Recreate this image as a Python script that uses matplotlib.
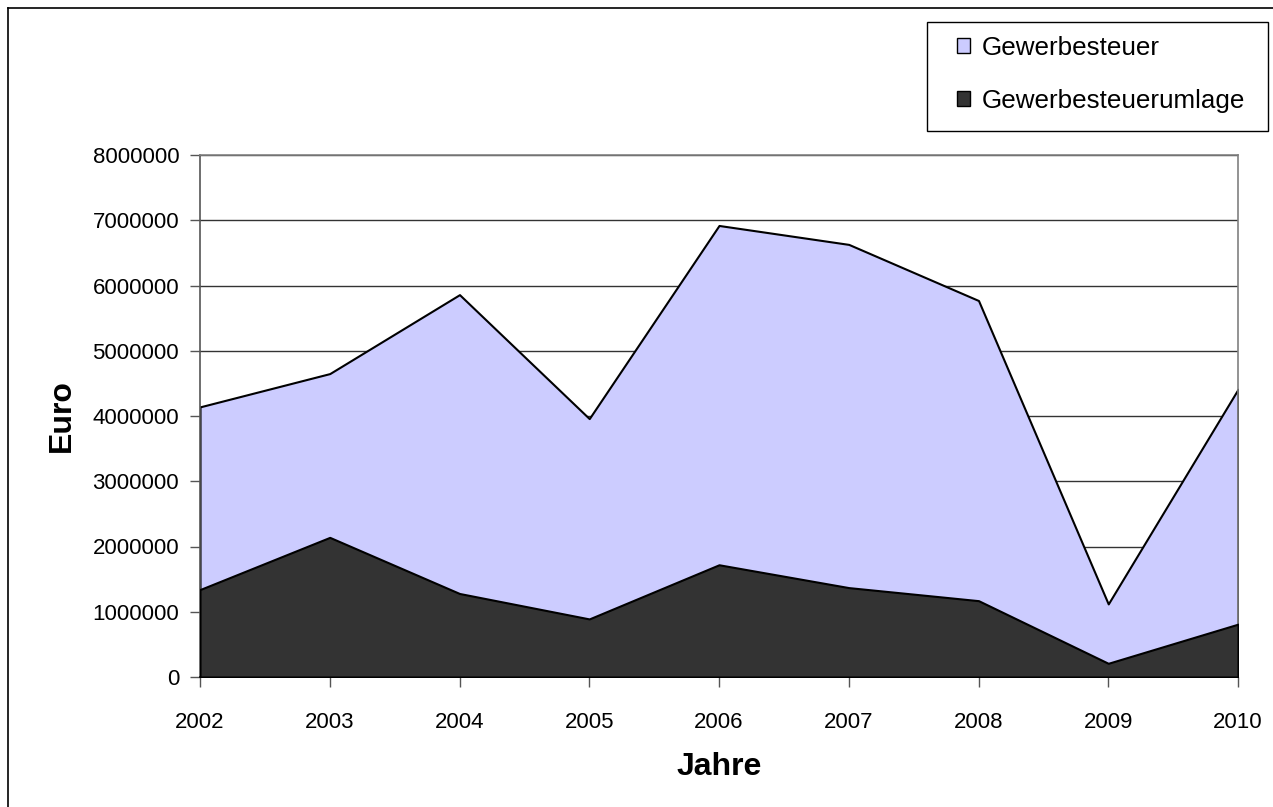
import matplotlib
matplotlib.use('Agg')
from matplotlib import pyplot as plt
from matplotlib.patches import Patch, Rectangle
from matplotlib.lines import Line2D
import numpy as np

plt.rcParams['font.family'] = ['Liberation Sans', 'DejaVu Sans']

years = [2002, 2003, 2004, 2005, 2006, 2007, 2008, 2009, 2010]
gewerbesteuer = [4140000, 4650000, 5860000, 3960000, 6920000, 6630000, 5770000, 1120000, 4410000]
umlage = [1340000, 2140000, 1280000, 890000, 1720000, 1370000, 1170000, 210000, 810000]
y_ticks = [0, 1000000, 2000000, 3000000, 4000000, 5000000, 6000000, 7000000, 8000000]

W, H = 1273, 807
fig = plt.figure(figsize=(W / 100, H / 100), dpi=100)
ax = fig.add_axes([200 / W, 1 - 677 / H, (1238 - 200) / W, (677 - 155) / H])

x = np.arange(len(years))
ax.fill_between(x, 0, gewerbesteuer, facecolor='#CCCCFF', edgecolor='black', linewidth=1.5, zorder=2)
ax.fill_between(x, 0, umlage, facecolor='#333333', edgecolor='black', linewidth=1.5, zorder=3)

ax.set_xlim(0, len(years) - 1)
ax.set_ylim(0, 8000000)
ax.set_xticks(x)
ax.set_xticklabels([str(y) for y in years])
ax.set_yticks(y_ticks)
ax.set_yticklabels([str(v) for v in y_ticks])
ax.yaxis.grid(True, color='#333333', linewidth=1.0, zorder=1)
ax.set_axisbelow(True)

for s in ax.spines.values():
    s.set_color('#808080')
    s.set_linewidth(1.2)
ax.spines['bottom'].set_color('black')
ax.spines['left'].set_color('#555555')
ax.tick_params(axis='both', direction='out', length=7, width=1, color='#555555', labelsize=16)
ax.tick_params(axis='x', pad=18)
ax.tick_params(axis='y', pad=8)

ax.set_xlabel('Jahre', fontsize=23, fontweight='bold', labelpad=14)
ax.set_ylabel('Euro', fontsize=23, fontweight='bold', labelpad=11)

# legend: frame drawn separately so its size can follow the reference
fig.add_artist(Rectangle((927 / W, 1 - 131 / H), (1268 - 927) / W, (131 - 22) / H,
                         transform=fig.transFigure, facecolor='white', edgecolor='black', linewidth=1))
handles = [Patch(facecolor='#CCCCFF', edgecolor='black', linewidth=1),
           Patch(facecolor='#333333', edgecolor='black', linewidth=1)]
leg = fig.legend(handles, ['Gewerbesteuer', 'Gewerbesteuerumlage'],
                 loc='upper left', bbox_to_anchor=(957 / W, 1 - 36 / H),
                 bbox_transform=fig.transFigure, fontsize=18.7, frameon=False,
                 borderaxespad=0, borderpad=0, handlelength=0.5, handleheight=0.5,
                 handletextpad=0.45, labelspacing=1.1)

# outer chart border (left and top edges visible)
fig.add_artist(Line2D([8 / W, 8 / W], [0, 1 - 8 / H], transform=fig.transFigure, color='black', linewidth=1.2))
fig.add_artist(Line2D([8 / W, 1], [1 - 8 / H, 1 - 8 / H], transform=fig.transFigure, color='black', linewidth=1.2))

fig.savefig('out.png', dpi=100)
